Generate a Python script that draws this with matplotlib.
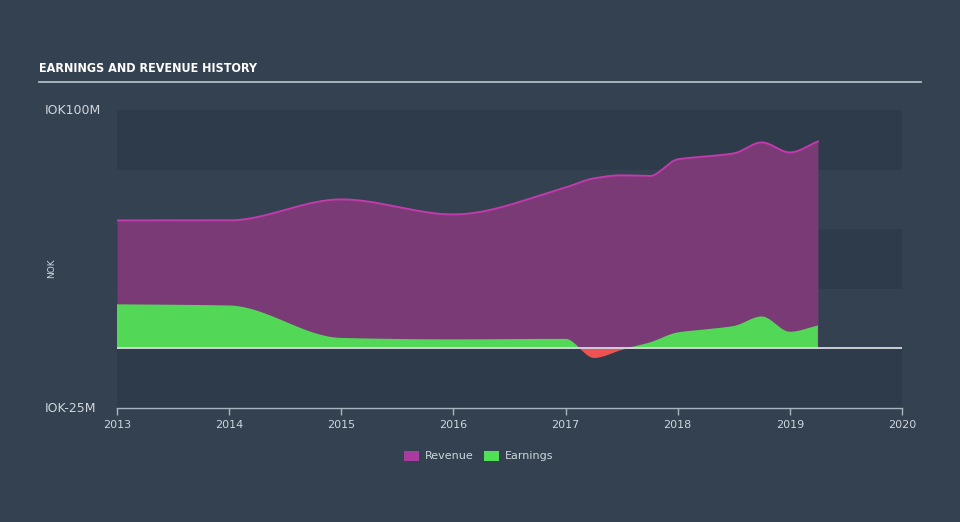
""" Earnings and revenue history chart """

import numpy as np
import matplotlib.pyplot as plt
from matplotlib.patches import Rectangle

# Data (NOK millions)
years = [2013.0, 2014.0, 2015.0, 2016.0, 2017.0, 2017.25, 2017.5, 2017.75,
         2018.0, 2018.25, 2018.5, 2018.75, 2019.0, 2019.25]
revenue = [53.7, 53.7, 62.5, 56.2, 67.5, 71.3, 72.6, 72.3,
           79.3, 80.5, 81.8, 86.4, 82.2, 86.8]
earnings = [18.5, 18.0, 4.4, 3.8, 4.0, -3.8, -0.4, 2.5,
            6.7, 8.0, 9.4, 13.4, 7.0, 9.6]

x_ticks = [2013, 2014, 2015, 2016, 2017, 2018, 2019, 2020]
y_tick_labels = {100: "IOK100M", -25: "IOK-25M"}

BG = "#334150"
BAND = "#2d3b4a"
REV_FILL = "#7a3a76"
REV_LINE = "#c23aac"
EARN_POS = "#52d756"
EARN_NEG = "#ee5252"
TEXT = "#cfd6dd"


def monotone(x, y, xs):
    """ Monotone cubic (Fritsch-Carlson) curve, like a d3 monotoneX line. """
    x = np.asarray(x, float)
    y = np.asarray(y, float)
    h = np.diff(x)
    d = np.diff(y) / h
    m = np.zeros_like(y)
    m[0], m[-1] = d[0], d[-1]
    for i in range(1, len(y) - 1):
        if d[i - 1] * d[i] <= 0:
            m[i] = 0
        else:
            w1 = 2 * h[i] + h[i - 1]
            w2 = h[i] + 2 * h[i - 1]
            m[i] = (w1 + w2) / (w1 / d[i - 1] + w2 / d[i])
    idx = np.clip(np.searchsorted(x, xs) - 1, 0, len(x) - 2)
    t = (xs - x[idx]) / h[idx]
    h00 = 2 * t**3 - 3 * t**2 + 1
    h10 = t**3 - 2 * t**2 + t
    h01 = -2 * t**3 + 3 * t**2
    h11 = t**3 - t**2
    return (h00 * y[idx] + h10 * h[idx] * m[idx]
            + h01 * y[idx + 1] + h11 * h[idx] * m[idx + 1])


fig = plt.figure(figsize=(9.6, 5.22), dpi=100, facecolor=BG)
ax = fig.add_axes([117 / 960, 114 / 522, 785 / 960, 298 / 522])
ax.set_facecolor(BG)

# Alternating horizontal bands
for lo in (75, 25, -25):
    ax.add_patch(Rectangle((2013, lo), 7, 25, color=BAND, lw=0, zorder=0))

xs = np.linspace(years[0], years[-1], 1200)
rev_s = monotone(years, revenue, xs)
earn_s = monotone(years, earnings, xs)

ax.fill_between(xs, 0, rev_s, color=REV_FILL, lw=0, zorder=1)
ax.plot(xs, rev_s, color=REV_LINE, lw=1.4, zorder=3)
ax.fill_between(xs, 0, earn_s, where=earn_s >= 0, interpolate=True,
                color=EARN_POS, lw=0, zorder=2)
ax.fill_between(xs, 0, earn_s, where=earn_s <= 0, interpolate=True,
                color=EARN_NEG, lw=0, zorder=2)
ax.axhline(0, color="#d5dadf", lw=1.3, zorder=4)

ax.set_xlim(2013, 2020)
ax.set_ylim(-25, 100)

for s in ("top", "right", "left"):
    ax.spines[s].set_visible(False)
ax.spines["bottom"].set_color("#aab4be")
ax.spines["bottom"].set_linewidth(1)
ax.set_xticks(x_ticks)
ax.set_xticklabels([str(t) for t in x_ticks])
ax.tick_params(axis="x", colors="#aab4be", labelcolor=TEXT, labelsize=8,
               length=5, width=1, pad=4)
ax.set_yticks([])

for val, lab in y_tick_labels.items():
    ax.text(-72 / 785, val, lab, transform=ax.get_yaxis_transform(),
            ha="left", va="center", color=TEXT, fontsize=9)
ax.text(-65 / 785, 0.47, "NOK", transform=ax.transAxes, rotation=90,
        ha="center", va="center", color=TEXT, fontsize=6.5)

# Title and underline
fig.text(39 / 960, 1 - 68 / 522, "EARNINGS AND REVENUE HISTORY",
         family="DejaVu Sans", stretch="condensed", weight="bold",
         fontsize=9, color="white", ha="left", va="center")
fig.add_artist(plt.Line2D([39 / 960, 921 / 960], [1 - 82 / 522] * 2,
                          color="#b4bcc4", lw=1.3))

# Legend
ly = 1 - 456 / 522
for x0, col, lab in ((404, "#a93c9f", "Revenue"), (484, "#52e056", "Earnings")):
    fig.add_artist(Rectangle((x0 / 960, ly - 5 / 522), 15 / 960, 10 / 522,
                             color=col, lw=0))
    fig.text((x0 + 21) / 960, ly, lab, color=TEXT, fontsize=8,
             ha="left", va="center")

fig.savefig("out.png", dpi=100, facecolor=BG)
